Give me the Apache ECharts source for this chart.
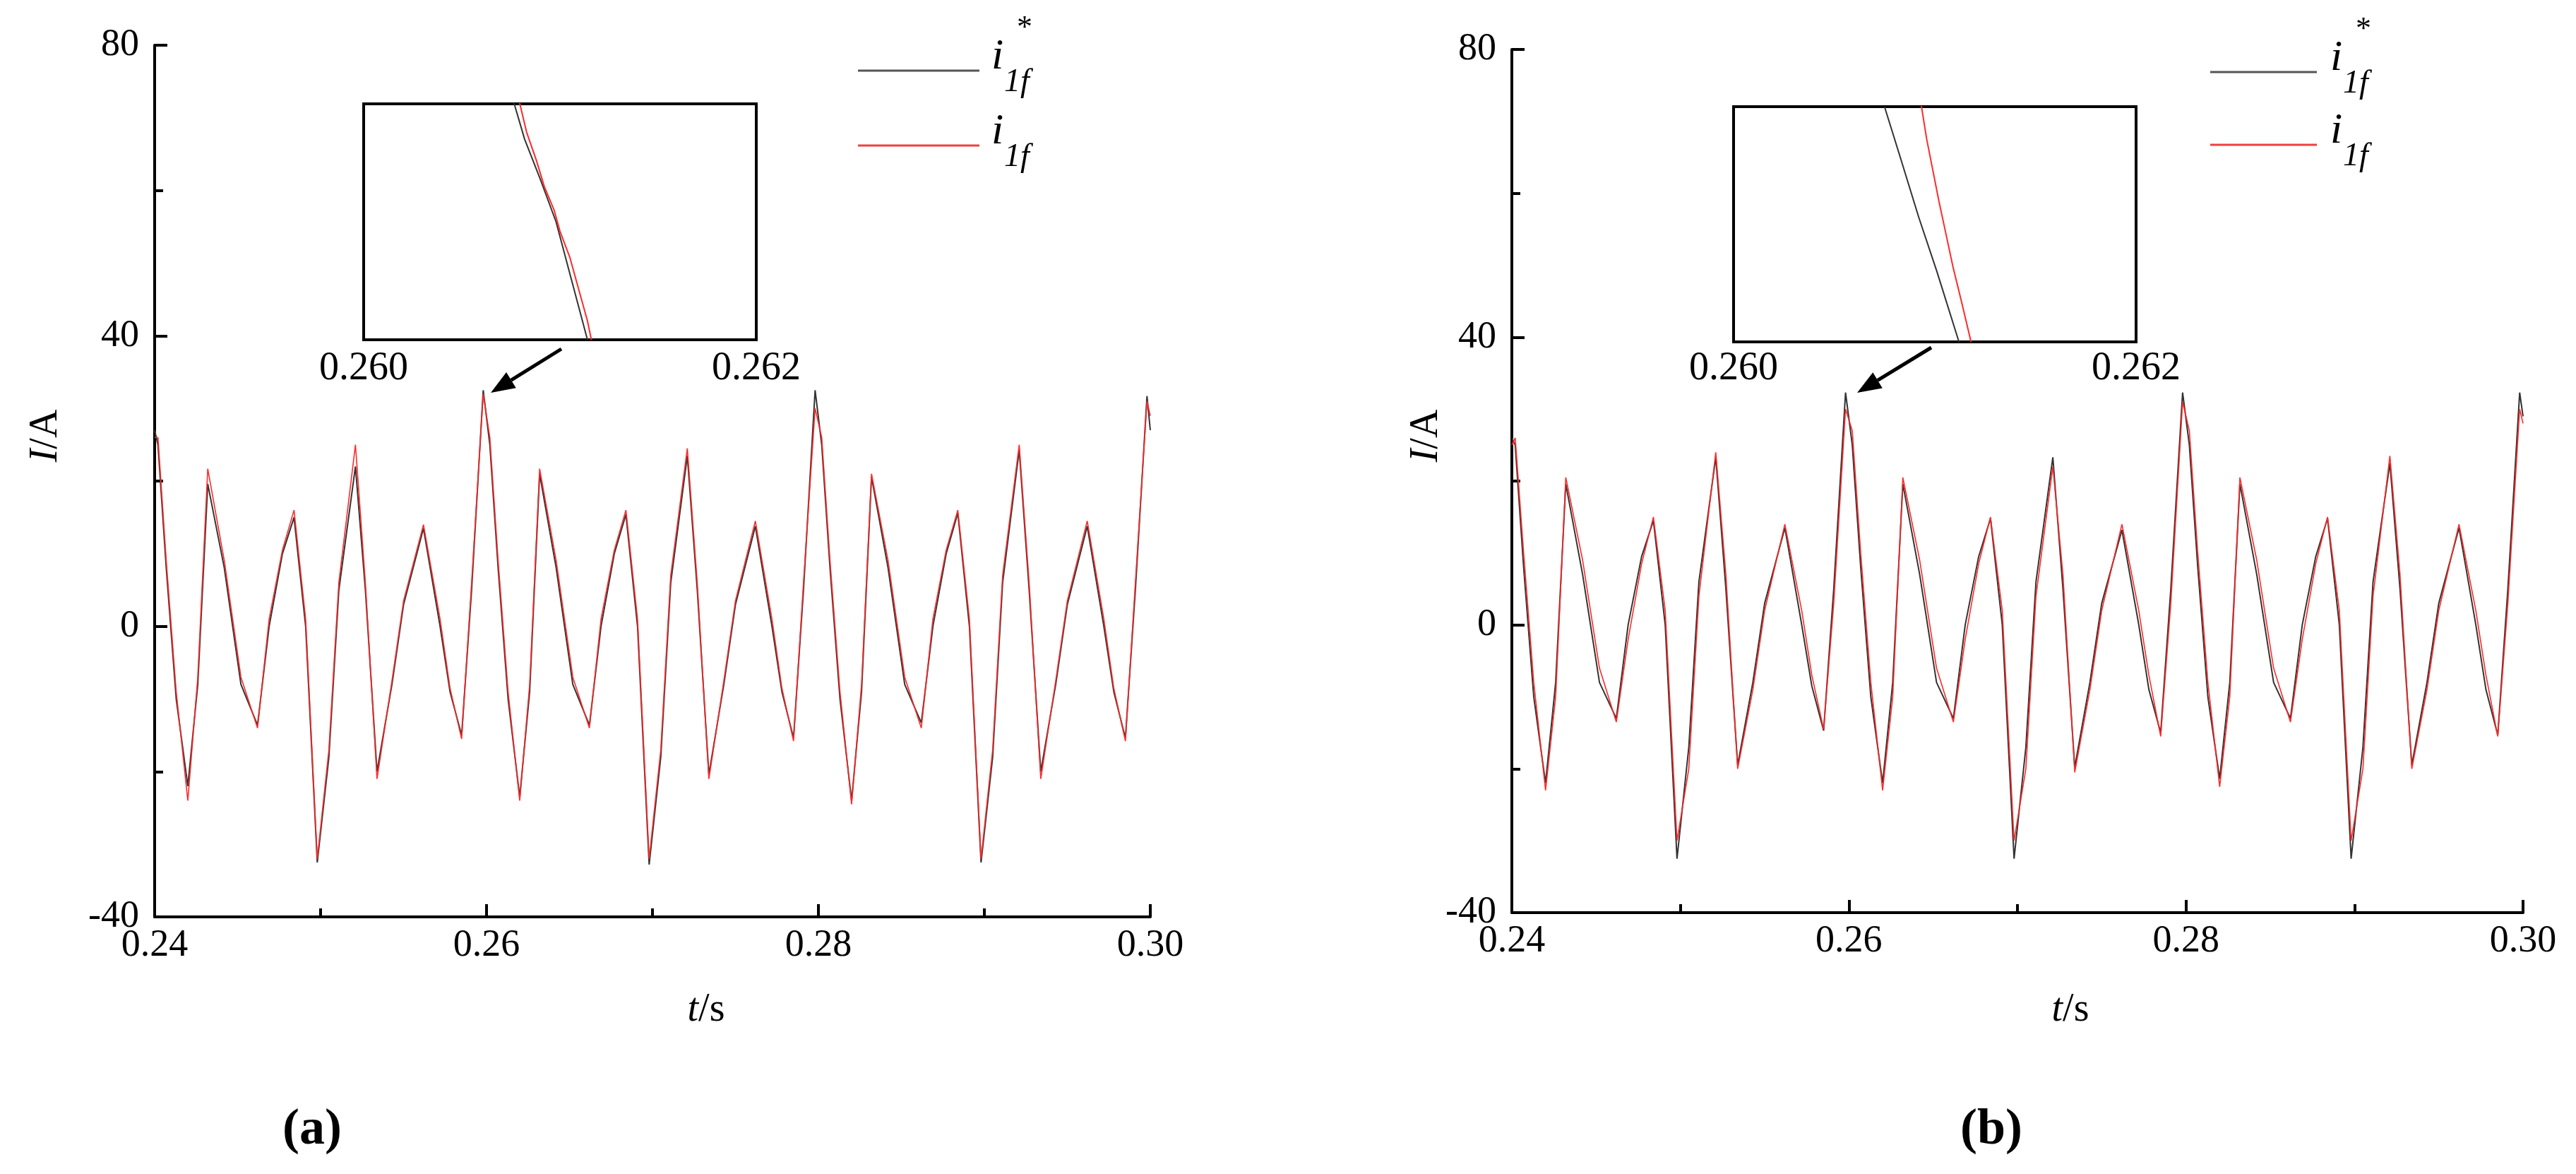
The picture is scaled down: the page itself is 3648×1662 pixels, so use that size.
<!DOCTYPE html>
<html><head><meta charset="utf-8">
<script src="https://cdn.jsdelivr.net/npm/echarts@6/dist/echarts.min.js"></script>
<style>html,body{margin:0;padding:0;background:#fff}#c{width:3648px;height:1662px}</style>
</head><body><div id="c"></div>
<script>
const times = [0.2400,0.2402,0.2407,0.2413,0.2420,0.2426,0.2432,0.2442,0.2452,0.2462,0.2469,0.2477,0.2484,0.2491,0.2498,0.2505,0.2511,0.2521,0.2527,0.2534,0.2543,0.2550,0.2562,0.2572,0.2578,0.2585,0.2591,0.2598,
0.2602,0.2607,0.2613,0.2620,0.2626,0.2632,0.2642,0.2652,0.2662,0.2669,0.2677,0.2684,0.2691,0.2698,0.2705,0.2711,0.2721,0.2727,0.2734,0.2743,0.2750,0.2762,0.2772,0.2778,0.2785,0.2791,0.2798,
0.2802,0.2807,0.2813,0.2820,0.2826,0.2832,0.2842,0.2852,0.2862,0.2869,0.2877,0.2884,0.2891,0.2898,0.2905,0.2911,0.2921,0.2927,0.2934,0.2943,0.2950,0.2962,0.2972,0.2978,0.2985,0.2991,0.2998,0.3000];
const blackA = [27,25,8,-10,-22,-8,19.6,8,-8,-13.6,0,10,15,0,-32.5,-18,5,22,5,-20,-8,3,13.5,0,-9,-15,5,32.5,
25,8,-10,-23.5,-9,21,8,-8,-13.6,0,10,15.4,0,-32.8,-18,6,23.5,5,-20.4,-8,3,13.8,0,-9,-15.4,5,32.5,
25,8,-10,-24,-9,20.6,8,-8,-13.3,0,10,15.6,0,-32.5,-18,6,24.3,5,-20,-8,3,13.8,0,-9,-15.4,5,31.7,27];
const redA = [26,26,9,-9,-24,-7,21.7,9,-7,-14,1,10.5,16,1,-32,-17,6,25,6,-21,-7.5,3.5,14,1,-8.5,-15.5,6,32,
26,9,-9,-24,-8,21.7,9,-7,-14,1,10.5,16,1,-32,-17,7,24.5,6,-21,-7.5,3.5,14.5,1,-8.5,-15.8,6,30,
26,9,-9,-24.5,-8,21,9,-7,-14,1,10.5,16,1,-32,-17,7,25,6,-21,-7.5,3.5,14.5,1,-8.5,-15.8,6,31,29];
const blackB = [26,25,8,-10,-22,-8,19.6,7,-8,-13,0,9.5,14.5,0,-32.5,-17,6,23.3,5,-19.5,-8,3,13.5,0,-8.5,-14.7,5,32.3,
25,8,-10,-22,-8,19.6,7,-8,-13,0,9.5,14.8,0,-32.5,-17,6,23.3,5,-19.8,-8,3,13.2,0,-9,-15,5,32.3,
25,8,-10,-21.4,-8,19.6,7,-8,-13,0,9.5,14.8,0,-32.5,-17,6,22.5,5,-19.5,-8,3,13.5,0,-9,-15.3,5,32.3,29];
const redB = [25,26,10,-8,-23,-10,20.5,9,-6,-13.5,-2,8.5,15,2,-30,-20,4,24,7,-20,-9,2,14,2,-7,-14.5,3,30,
27,10,-8,-23,-10,20.5,9,-6,-13.5,-2,8.5,15,2,-30,-20,4,22,7,-20.5,-9,2,14,2,-7,-15.5,3,31,
27,10,-8,-22.5,-10,20.5,9,-6,-13.5,-2,8.5,15,2,-30,-20,4,23.5,7,-20,-9,2,14,2,-7,-15.5,3,30,28];
const insetBlackA = [[0.26076,30.2],[0.26082,28.5],[0.26090,26.8],[0.26098,25],[0.26106,22.5],[0.26114,20]];
const insetRedA = [[0.26079,30.2],[0.26083,28.8],[0.26088,27.6],[0.26092,26.5],[0.26097,25.5],[0.26100,24.6],[0.26105,23.5],[0.26110,22],[0.26114,20.8],[0.26116,20]];
const insetBlackB = [[0.26075,30],[0.26083,27.8],[0.26092,25.3],[0.26101,23],[0.26112,20]];
const insetRedB = [[0.26093,30.2],[0.26096,28.6],[0.26099,27.3],[0.26102,26],[0.26105,24.8],[0.26109,23.2],[0.26113,21.8],[0.26118,20]];
const xTicks = [0.24,0.26,0.28,0.30];
const yTicks = [-40,0,40,80];

const FONT = 'Liberation Serif';
const BLK = '#333', RED = '#ff2a2a';
function pairs(t, v){ return t.map((x,i)=>[x,v[i]]); }
function mainX(gi){ return {type:'value',gridIndex:gi,min:xTicks[0],max:xTicks[3],interval:0.02,
  axisLine:{onZero:false,lineStyle:{color:'#000',width:4}},axisTick:{inside:true,length:18,lineStyle:{width:4,color:'#000'}},
  minorTick:{show:true,splitNumber:2,length:12,lineStyle:{width:4,color:'#000'}},splitLine:{show:false},
  axisLabel:{fontFamily:FONT,fontSize:54,color:'#000',margin:14,formatter:v=>v.toFixed(2)}}; }
function mainY(gi){ return {type:'value',gridIndex:gi,min:yTicks[0],max:yTicks[3],interval:40,
  axisLine:{onZero:false,lineStyle:{color:'#000',width:4}},axisTick:{inside:true,length:18,lineStyle:{width:4,color:'#000'}},
  minorTick:{show:true,splitNumber:2,length:12,lineStyle:{width:4,color:'#000'}},splitLine:{show:false},
  axisLabel:{fontFamily:FONT,fontSize:54,color:'#000',margin:22}}; }
function inX(gi){ return {type:'value',gridIndex:gi,min:0.260,max:0.262,show:false,splitLine:{show:false}}; }
function inY(gi){ return {type:'value',gridIndex:gi,min:20,max:30,show:false,splitLine:{show:false}}; }
function ln(gi,data,color,w){ return {type:'line',xAxisIndex:gi,yAxisIndex:gi,data,showSymbol:false,symbol:'none',clip:true,
  lineStyle:{color,width:w},silent:true,animation:false}; }
function legendG(x0,x1,tx,y1,y2){ return [
  {type:'line',shape:{x1:x0,y1:y1,x2:x1,y2:y1},style:{stroke:'#555',lineWidth:3}},
  {type:'line',shape:{x1:x0,y1:y2,x2:x1,y2:y2},style:{stroke:'#f04040',lineWidth:3}},
  {type:'text',x:tx,y:y1-50,style:{text:'i',font:'italic 62px '+FONT,fill:'#000'}},
  {type:'text',x:tx+18,y:y1-6,style:{text:'1f',font:'italic 46px '+FONT,fill:'#000'}},
  {type:'text',x:tx+36,y:y1-82,style:{text:'*',font:'44px '+FONT,fill:'#000'}},
  {type:'text',x:tx,y:y2-50,style:{text:'i',font:'italic 62px '+FONT,fill:'#000'}},
  {type:'text',x:tx+18,y:y2-6,style:{text:'1f',font:'italic 46px '+FONT,fill:'#000'}}
]; }
function arrow(x1,y1,x2,y2){
  const a=Math.atan2(y2-y1,x2-x1), L=34, W=13;
  const bx=x2-L*Math.cos(a), by=y2-L*Math.sin(a);
  return [{type:'line',shape:{x1,y1,x2:bx,y2:by},style:{stroke:'#000',lineWidth:5}},
   {type:'polygon',shape:{points:[[x2,y2],[bx+W*Math.sin(a),by-W*Math.cos(a)],[bx-W*Math.sin(a),by+W*Math.cos(a)]]},style:{fill:'#000'}}];
}
function txt(x,y,t,font,align){ return {type:'text',x,y,style:{text:t,font,fill:'#000',align:align||'center',verticalAlign:'middle'}}; }
function rt(x,y,t,rot){ return {type:'text',x,y,rotation:rot||0,style:{text:t,rich:{i:{fontStyle:'italic',fontFamily:FONT,fontSize:56}},font:'56px '+FONT,fill:'#000',align:'center',verticalAlign:'middle'}}; }

const chart = echarts.init(document.getElementById('c'));
chart.setOption({
  backgroundColor:'#fff', animation:false,
  grid:[
    {left:219,top:64,width:1410,height:1234},
    {left:2141,top:70,width:1432,height:1222},
    {left:515,top:147,width:556,height:334,show:true,borderColor:'#000',borderWidth:4,backgroundColor:'#fff'},
    {left:2455,top:151,width:570,height:333,show:true,borderColor:'#000',borderWidth:4,backgroundColor:'#fff'}
  ],
  xAxis:[mainX(0),mainX(1),inX(2),inX(3)],
  yAxis:[mainY(0),mainY(1),inY(2),inY(3)],
  series:[
    ln(0,pairs(times,blackA),BLK,2), ln(0,pairs(times,redA),RED,1.6),
    ln(1,pairs(times,blackB),BLK,2), ln(1,pairs(times,redB),RED,1.6),
    ln(2,insetBlackA,BLK,2), ln(2,insetRedA,RED,2),
    ln(3,insetBlackB,BLK,2), ln(3,insetRedB,RED,2)
  ],
  graphic:[
    ...legendG(1215,1387,1404,100,206),
    ...legendG(3130,3281,3300,102,205),
    ...arrow(795,494,695,556), ...arrow(2735,492,2630,556),
    txt(515,522,'0.260','56px '+FONT), txt(1071,522,'0.262','56px '+FONT),
    txt(2455,522,'0.260','56px '+FONT), txt(3025,522,'0.262','56px '+FONT),
    rt(65,617,'{i|I}/A',Math.PI/2), rt(2020,617,'{i|I}/A',Math.PI/2),
    rt(1000,1430,'{i|t}/s'), rt(2932,1430,'{i|t}/s'),
    txt(442,1600,'(a)','bold 72px '+FONT), txt(2820,1600,'(b)','bold 72px '+FONT)
  ]
});
</script></body></html>
